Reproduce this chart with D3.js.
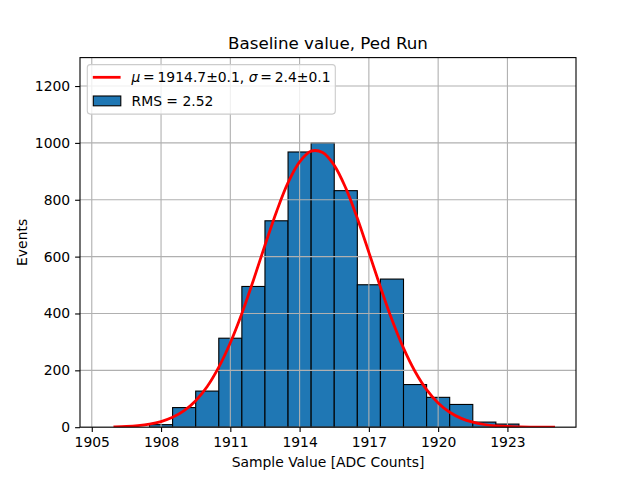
<!DOCTYPE html>
<html>
<head>
<meta charset="utf-8">
<script src="https://cdn.jsdelivr.net/npm/d3@7"></script>
<style>
  html, body { margin: 0; padding: 0; background: #fff; }
  svg { display: block; font-family: "DejaVu Sans", sans-serif; }
</style>
</head>
<body>
<script>
// ---- data ----
const binCenters = [1908, 1909, 1910, 1911, 1912, 1913, 1914, 1915, 1916, 1917, 1918, 1919, 1920, 1921, 1922, 1923];
const binCounts  = [9, 69, 127, 313, 495, 726, 968, 1000, 832, 501, 521, 150, 105, 80, 18, 11];
const binWidth = 1;

// fitted Gaussian curve
const fitX = [1906, 1906.5, 1907, 1907.5, 1908, 1908.5, 1909, 1909.5, 1910, 1910.5, 1911, 1911.5, 1912, 1912.5,
              1913, 1913.5, 1914, 1914.5, 1915, 1915.5, 1916, 1916.5, 1917, 1917.5, 1918, 1918.5, 1919, 1919.5,
              1920, 1920.5, 1921, 1921.5, 1922, 1922.5, 1923, 1923.5, 1924, 1924.5, 1925];
const fitY = [1.4, 2.8, 5.7, 10.8, 19.8, 34.6, 58, 93, 143, 211, 297, 400, 517, 640,
              758, 860, 933, 971, 966, 921, 841, 735, 615, 493, 378, 278, 196, 132,
              85, 52.5, 31, 17.6, 9.5, 5, 2.5, 1.2, 0.5, 0.2, 0.1];

const xTicks = [1905, 1908, 1911, 1914, 1917, 1920, 1923];
const yTicks = [0, 200, 400, 600, 800, 1000, 1200];

const titleText = "Baseline value, Ped Run";
const xLabelText = "Sample Value [ADC Counts]";
const yLabelText = "Events";
const fitLabel = { mu: "1914.7±0.1", sigma: "2.4±0.1" };
const rmsLabel = "RMS = 2.52";

// ---- layout ----
const W = 640, H = 480;
const L = 80, R = 576, T = 57.6, B = 427.2;

const svg = d3.select("body").append("svg").attr("width", W).attr("height", H);

const x = d3.scaleLinear().domain([1904.49, 1925.97]).range([L, R]);
const y = d3.scaleLinear().domain([0, 1300]).range([B, T]);

const clipId = "plotclip";
svg.append("defs").append("clipPath").attr("id", clipId)
  .append("rect").attr("x", L).attr("y", T).attr("width", R - L).attr("height", B - T);

const plot = svg.append("g").attr("clip-path", `url(#${clipId})`);

// bars
plot.selectAll("rect.bar").data(binCenters).enter().append("rect")
  .attr("class", "bar")
  .attr("x", (d) => x(d - binWidth / 2))
  .attr("width", (d) => x(d + binWidth / 2) - x(d - binWidth / 2))
  .attr("y", (d, i) => y(binCounts[i]))
  .attr("height", (d, i) => y(0) - y(binCounts[i]))
  .attr("fill", "#1f77b4")
  .attr("stroke", "#000")
  .attr("stroke-width", 1.1);

// grid (drawn above bars, as in the reference)
plot.selectAll("line.gx").data(xTicks).enter().append("line")
  .attr("x1", (d) => x(d)).attr("x2", (d) => x(d))
  .attr("y1", T).attr("y2", B)
  .attr("stroke", "#b0b0b0").attr("stroke-width", 1.1);
plot.selectAll("line.gy").data(yTicks).enter().append("line")
  .attr("y1", (d) => y(d)).attr("y2", (d) => y(d))
  .attr("x1", L).attr("x2", R)
  .attr("stroke", "#b0b0b0").attr("stroke-width", 1.1);

// fit curve
const line = d3.line().x((d, i) => x(fitX[i])).y((d) => y(d)).curve(d3.curveCatmullRom);
plot.append("path").datum(fitY)
  .attr("d", line)
  .attr("fill", "none")
  .attr("stroke", "#ff0000")
  .attr("stroke-width", 2.78)
  .attr("stroke-linejoin", "round")
  .attr("stroke-linecap", "square");

// axes
const xAxis = d3.axisBottom(x).tickValues(xTicks).tickFormat(d3.format("d")).tickSize(4.9).tickPadding(4.9);
const yAxis = d3.axisLeft(y).tickValues(yTicks).tickFormat(d3.format("d")).tickSize(4.9).tickPadding(4.9);

const gx = svg.append("g").attr("transform", `translate(0,${B})`).call(xAxis);
const gy = svg.append("g").attr("transform", `translate(${L},0)`).call(yAxis);
[gx, gy].forEach((g) => {
  g.select(".domain").remove();
  g.selectAll(".tick line").attr("stroke", "#000").attr("stroke-width", 1.1);
  g.selectAll(".tick text").attr("fill", "#000").style("font-size", "13.9px").style("font-family", "DejaVu Sans");
});

// spines
svg.append("rect").attr("x", L).attr("y", T).attr("width", R - L).attr("height", B - T)
  .attr("fill", "none").attr("stroke", "#000").attr("stroke-width", 1.1);

// title and labels
svg.append("text").attr("x", (L + R) / 2).attr("y", 49).attr("text-anchor", "middle")
  .style("font-size", "16.7px").text(titleText);
svg.append("text").attr("x", (L + R) / 2).attr("y", 467).attr("text-anchor", "middle")
  .style("font-size", "13.9px").text(xLabelText);
svg.append("text").attr("transform", `translate(27,${(T + B) / 2}) rotate(-90)`).attr("text-anchor", "middle")
  .style("font-size", "13.9px").text(yLabelText);

// legend
const lg = svg.append("g");
lg.append("rect").attr("x", 87.3).attr("y", 64.6).attr("width", 248).attr("height", 49.5)
  .attr("rx", 3).attr("ry", 3)
  .attr("fill", "#fff").attr("fill-opacity", 0.8)
  .attr("stroke", "#cccccc").attr("stroke-width", 1.1);
lg.append("line").attr("x1", 92.8).attr("x2", 120.6).attr("y1", 77.3).attr("y2", 77.3)
  .attr("stroke", "#ff0000").attr("stroke-width", 2.78);
const t1 = lg.append("text").attr("x", 131.5).attr("y", 82.2).style("font-size", "13.9px");
t1.append("tspan").style("font-style", "italic").text("μ");
t1.append("tspan").text("\u2009=\u2009" + fitLabel.mu + ", ");
t1.append("tspan").style("font-style", "italic").text("σ");
t1.append("tspan").text("\u2009=\u2009" + fitLabel.sigma);
lg.append("rect").attr("x", 93.3).attr("y", 96).attr("width", 27.5).attr("height", 9.8)
  .attr("fill", "#1f77b4").attr("stroke", "#000").attr("stroke-width", 1.1);
lg.append("text").attr("x", 131.5).attr("y", 105.5).style("font-size", "13.9px").text(rmsLabel);
</script>
</body>
</html>
